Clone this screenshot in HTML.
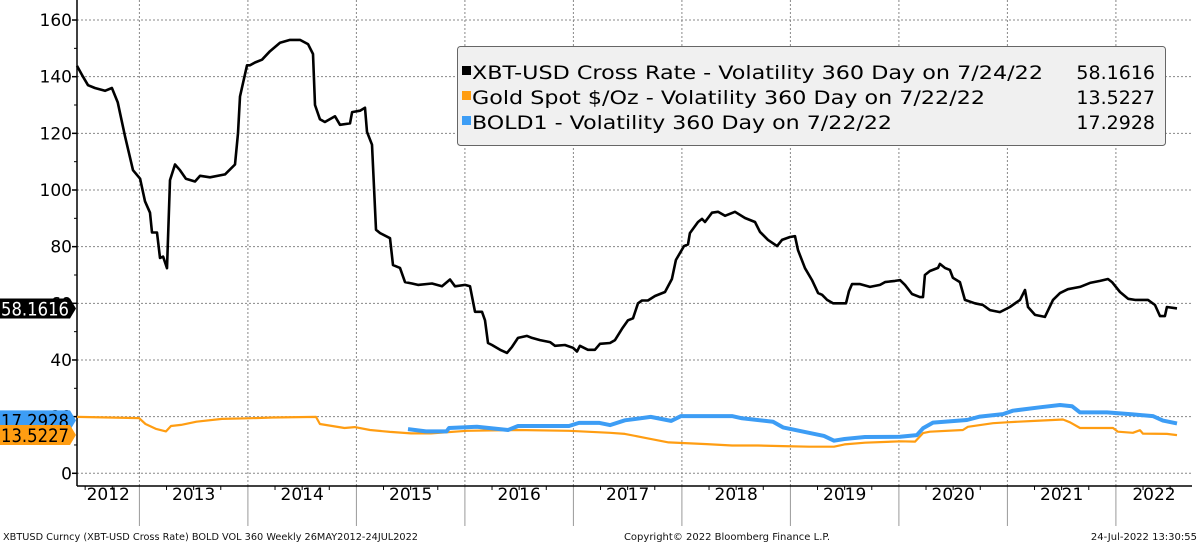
<!DOCTYPE html>
<html><head><meta charset="utf-8">
<style>
html,body{margin:0;padding:0;background:#fff;}
svg{display:block;font-family:"DejaVu Sans","Liberation Sans",sans-serif;}
</style></head>
<body>
<svg id="chart" width="1200" height="544" viewBox="0 0 1200 544" xmlns="http://www.w3.org/2000/svg">
<g id="grid"></g>
<g id="axes"></g>
<g id="series"></g>
<g id="legend"></g>
<g id="labels"></g>
<g id="footer">
<text x="3" y="540" font-size="10" fill="#111" textLength="415" lengthAdjust="spacingAndGlyphs">XBTUSD Curncy (XBT-USD Cross Rate) BOLD VOL 360  Weekly 26MAY2012-24JUL2022</text>
<text x="727" y="540" font-size="10" fill="#111" text-anchor="middle">Copyright© 2022 Bloomberg Finance L.P.</text>
<text x="1197" y="540" font-size="10" fill="#111" text-anchor="end">24-Jul-2022 13:30:55</text>
</g>
</svg>
<script>
const yTicks=[0,20,40,60,80,100,120,140,160];
const years=[2012,2013,2014,2015,2016,2017,2018,2019,2020,2021,2022];
const xbtDates=[2012.425,2012.48,2012.526,2012.59,2012.683,2012.747,2012.80,2012.867,2012.941,2013.006,2013.052,2013.098,2013.116,2013.162,2013.19,2013.218,2013.254,2013.282,2013.328,2013.374,2013.429,2013.512,2013.559,2013.651,2013.789,2013.881,2013.909,2013.927,2013.992,2014.019,2014.065,2014.130,2014.204,2014.296,2014.388,2014.48,2014.554,2014.60,2014.618,2014.664,2014.71,2014.803,2014.849,2014.941,2014.96,2015.033,2015.079,2015.098,2015.144,2015.181,2015.218,2015.31,2015.337,2015.402,2015.448,2015.512,2015.568,2015.697,2015.789,2015.863,2015.909,2016.001,2016.047,2016.093,2016.158,2016.185,2016.213,2016.25,2016.324,2016.388,2016.434,2016.489,2016.572,2016.618,2016.692,2016.784,2016.83,2016.922,2016.996,2017.033,2017.06,2017.134,2017.198,2017.245,2017.337,2017.383,2017.448,2017.503,2017.549,2017.595,2017.632,2017.687,2017.752,2017.844,2017.908,2017.945,2018.019,2018.056,2018.074,2018.148,2018.185,2018.213,2018.277,2018.333,2018.397,2018.489,2018.582,2018.674,2018.72,2018.794,2018.877,2018.923,2018.996,2019.042,2019.07,2019.135,2019.199,2019.255,2019.292,2019.338,2019.393,2019.458,2019.512,2019.54,2019.568,2019.642,2019.734,2019.826,2019.872,2019.964,2020.01,2020.056,2020.121,2020.194,2020.222,2020.24,2020.286,2020.36,2020.378,2020.424,2020.47,2020.498,2020.562,2020.608,2020.7,2020.774,2020.839,2020.931,2021.023,2021.116,2021.162,2021.19,2021.254,2021.346,2021.42,2021.485,2021.558,2021.669,2021.761,2021.854,2021.927,2021.964,2022.038,2022.112,2022.176,2022.296,2022.36,2022.406,2022.452,2022.47,2022.563];
const xbtValues=[143.8,140,137,136,135,136,131,119,107,104,96,92,85,85,76,76.5,72.4,103.5,109,107,104,103,105,104.5,105.5,109,120,133,144,144,145,146,149,152,153,153,151.5,148,130,125,124,126,123,123.5,127.5,128,129,120.5,116,86,84.8,83,73.5,72.5,67.5,67,66.5,67,66,68.4,66,66.5,66,57,57,54,46,45.3,43.6,42.5,44.6,47.8,48.5,47.8,47,46.3,45,45.3,44.3,43,45,43.6,43.6,45.7,46,47,51,54,54.7,60,61,61,62.6,64,68.6,75.3,80.2,80.8,84.8,88.7,89.8,88.7,92,92.3,90.9,92.3,90.1,88.7,85.2,82.4,80.2,82.4,83.4,83.7,78.8,72.4,68.2,63.6,63,61.2,60,60,60,64.3,66.8,66.8,65.8,66.5,67.5,67.9,68.2,66.5,63.3,62.2,62.2,70,71.4,72.5,73.9,72.5,71.8,69,67.5,61.2,60,59.4,57.6,56.9,58.7,61.2,64.7,58.7,55.9,55.2,61.2,63.6,65,65.8,67.2,67.9,68.6,67.5,64,61.6,61.2,61.2,59.4,55.5,55.5,58.7,58.2];
const goldDates=[2012.425,2012.996,2013.056,2013.15,2013.245,2013.291,2013.383,2013.526,2013.761,2013.997,2014.231,2014.628,2014.664,2014.89,2014.984,2015.125,2015.31,2015.503,2015.688,2016.019,2016.489,2016.959,2017.337,2017.475,2017.664,2017.877,2018.229,2018.462,2018.701,2018.932,2019.171,2019.402,2019.499,2019.688,2020.016,2020.149,2020.222,2020.286,2020.59,2020.636,2020.867,2020.996,2021.3,2021.512,2021.577,2021.669,2021.973,2022.019,2022.157,2022.222,2022.249,2022.47,2022.563];
const goldValues=[19.9,19.5,17.4,15.7,14.8,16.7,17.1,18.2,19.2,19.4,19.7,19.9,17.4,16,16.3,15.3,14.6,14.1,14.1,15,15.3,15,14.3,13.9,12.5,10.9,10.3,9.8,9.8,9.6,9.4,9.4,10.2,10.8,11.3,11.2,14.2,14.7,15.3,16.4,17.7,18,18.6,19,18,16,16,14.7,14.3,15.2,14,13.9,13.5];
const boldDates=[2015.476,2015.641,2015.83,2015.853,2016.111,2016.397,2016.489,2016.959,2017.051,2017.241,2017.337,2017.475,2017.712,2017.9,2017.992,2018.462,2018.554,2018.84,2018.932,2019.31,2019.402,2019.499,2019.688,2020.01,2020.166,2020.222,2020.314,2020.627,2020.747,2020.959,2021.051,2021.3,2021.485,2021.595,2021.669,2021.918,2022.157,2022.341,2022.433,2022.563];
const boldValues=[15.6,14.8,14.8,16,16.4,15.3,16.7,16.7,17.8,17.8,17,18.7,19.9,18.5,20.2,20.2,19.4,18.2,16.2,13.2,11.5,12.1,12.8,12.9,13.5,15.9,17.9,18.8,20,20.9,22.1,23.3,24.1,23.7,21.5,21.5,20.8,20.2,18.6,17.6];
const legendLabels=["XBT-USD Cross Rate - Volatility 360 Day on 7/24/22","Gold Spot $/Oz - Volatility 360 Day on 7/22/22","BOLD1 - Volatility 360 Day on 7/22/22"];
const lastValues=["58.1616","13.5227","17.2928"];

const NS="http://www.w3.org/2000/svg";
const L=77,R=1192,B=486;
function xs(d){return 139.4+(d-2013)*108.5;}
function ys(v){return 473.3-v*2.833;}
function mk(tag,attrs,parent){const e=document.createElementNS(NS,tag);for(const k in attrs)e.setAttribute(k,attrs[k]);parent.appendChild(e);return e;}
const grid=document.getElementById('grid'),axes=document.getElementById('axes'),series=document.getElementById('series'),legend=document.getElementById('legend'),labels=document.getElementById('labels');

yTicks.forEach(v=>{
  const g=mk('line',{x1:L,x2:R,y1:ys(v),y2:ys(v),stroke:'#888','stroke-width':1,'stroke-dasharray':'2,2'},grid);
  
  
  const t=mk('line',{x1:L-5,x2:L,y1:ys(v),y2:ys(v),stroke:'#000','stroke-width':1.5},axes);
  
  
  const tx=mk('text',{x:L-5,y:ys(v)+6,'font-size':17,'text-anchor':'end',fill:'#000'},axes);
  tx.textContent=v;
  
  
  if(v<160){const m=mk('line',{x1:L-3,x2:L,y1:ys(v+10),y2:ys(v+10),stroke:'#000','stroke-width':1},axes);
  
  }
});
years.forEach((yr,i)=>{
  const x0=Math.max(L,xs(yr)), x1=Math.min(R,xs(yr+1));
  if(yr>2012){
    const g=mk('line',{x1:xs(yr),x2:xs(yr),y1:0,y2:B,stroke:'#888','stroke-width':1,'stroke-dasharray':'2,2'},grid);
    
    
    const s=mk('line',{x1:xs(yr),x2:xs(yr),y1:B,y2:526,stroke:'#999','stroke-width':1},axes);
    
    
  }
  for(let q=1;q<4;q++){const qx=xs(yr+q/4);if(qx>L&&qx<R){const t=mk('line',{x1:qx,x2:qx,y1:B,y2:B+4,stroke:'#000','stroke-width':1},axes);
    
    }}
  const tx=mk('text',{x:(x0+x1)/2,y:500,'font-size':17,'text-anchor':'middle',fill:'#000'},axes);
  tx.textContent=yr;
  
  
});
const ya=mk('line',{x1:L,x2:L,y1:0,y2:B,stroke:'#000','stroke-width':1.5},axes);


const xa=mk('line',{x1:L,x2:R,y1:B,y2:B,stroke:'#000','stroke-width':1.5},axes);



function path(ds,vs){return ds.map((d,i)=>(i?'L':'M')+xs(d).toFixed(1)+','+ys(vs[i]).toFixed(1)).join('');}
const pg=mk('path',{d:path(goldDates,goldValues),fill:'none',stroke:'#ff9d12','stroke-width':2.2,'stroke-linejoin':'round'},series);


const pb=mk('path',{d:path(boldDates,boldValues),fill:'none',stroke:'#3d9df5','stroke-width':4,'stroke-linejoin':'round'},series);


const px=mk('path',{d:path(xbtDates,xbtValues),fill:'none',stroke:'#000','stroke-width':2.6,'stroke-linejoin':'round'},series);



const lb=mk('rect',{x:457.5,y:46.5,width:708,height:99,rx:3,fill:'#f0f0f0',stroke:'#666','stroke-width':1},legend);


const cols=['#000','#ff9d12','#3d9df5'];
const lens=[571,513,420];
legendLabels.forEach((t,i)=>{
  const yy=79+i*25;
  const sq=mk('rect',{x:462,y:yy-13,width:9,height:9,fill:cols[i]},legend);
  
  
  const tx=mk('text',{x:472,y:yy,'font-size':19,fill:'#000',textLength:lens[i],lengthAdjust:'spacingAndGlyphs'},legend);
  tx.textContent=t;
  
  
  const vx=mk('text',{x:1155,y:yy,'font-size':19,fill:'#000','text-anchor':'end'},legend);
  vx.textContent=lastValues[i];
  
  
});

function tag(val,bg,fg,yc,name){
  const g=mk('g',{},labels);
  
  
  mk('path',{d:`M0,${yc-10}L70,${yc-10}L76,${yc}L70,${yc+10}L0,${yc+10}Z`,fill:bg},g);
  const t=mk('text',{x:1,y:yc+7,'font-size':19,fill:fg,textLength:68,lengthAdjust:'spacingAndGlyphs'},g);
  t.textContent=val;
}
tag(lastValues[2],'#3d9df5','#000',ys(17.29)-4,'bold1-last-value');
tag(lastValues[1],'#ff9d12','#000',ys(13.52),'gold-last-value');
tag(lastValues[0],'#000','#fff',ys(58.16),'xbt-last-value');
</script>
</body></html>
